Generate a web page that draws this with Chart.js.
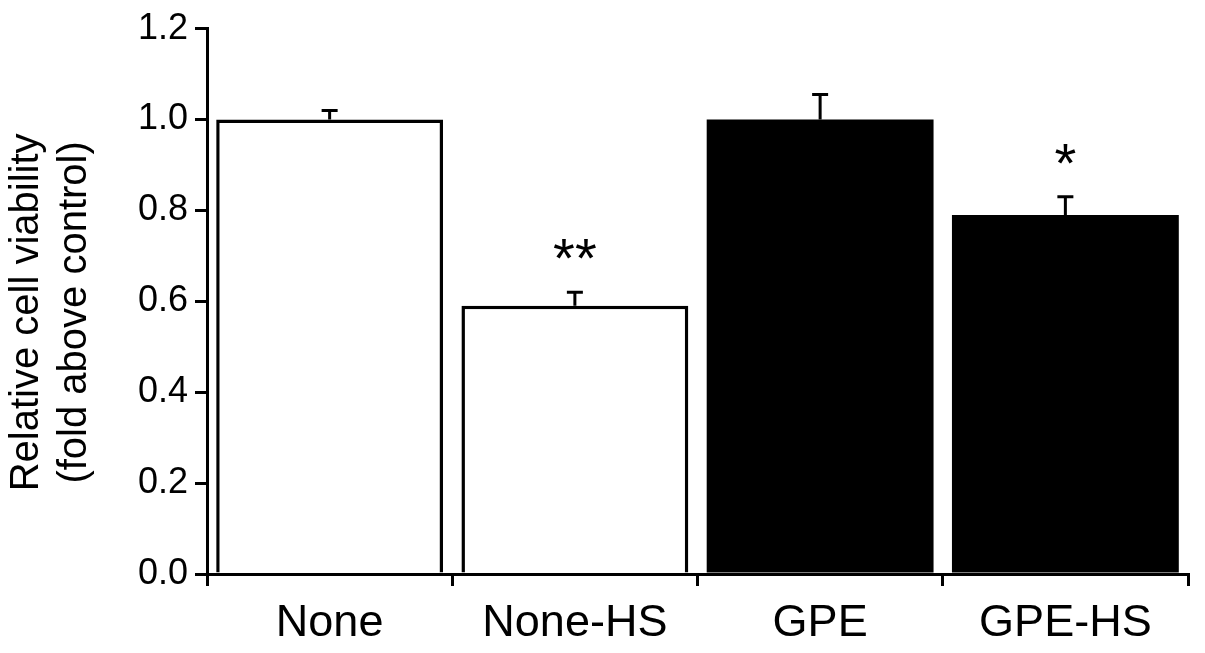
<!DOCTYPE html>
<html>
<head>
<meta charset="utf-8">
<script src="https://cdn.jsdelivr.net/npm/chart.js@4"></script>
<style>
  html, body { margin: 0; padding: 0; background: #fff; }
  #wrap { width: 1205px; height: 653px; position: relative; }
</style>
</head>
<body>
<div id="wrap"><canvas id="viabilityChart"></canvas></div>
<script>
// values
const categories = ['None', 'None-HS', 'GPE', 'GPE-HS'];
const viability = [1.0, 0.59, 1.0, 0.79];
const sem = [0.02, 0.03, 0.055, 0.04];
const significance = ['', '**', '', '*'];

const FONT = '"Liberation Sans", Arial, sans-serif';

// upward-only error bars + asterisks
const errorBars = {
  id: 'errorBars',
  afterDatasetsDraw(chart) {
    const ctx = chart.ctx;
    const meta = chart.getDatasetMeta(0);
    const y = chart.scales.y;
    ctx.save();
    ctx.strokeStyle = '#000';
    ctx.lineWidth = 3;
    meta.data.forEach((bar, i) => {
      const top = y.getPixelForValue(viability[i]);
      const tip = y.getPixelForValue(viability[i] + sem[i]);
      ctx.beginPath();
      ctx.moveTo(bar.x, top);
      ctx.lineTo(bar.x, tip);
      ctx.moveTo(bar.x - 8, tip);
      ctx.lineTo(bar.x + 8, tip);
      ctx.stroke();

      if (significance[i]) {
        ctx.font = '56px ' + FONT;
        ctx.fillStyle = '#000';
        ctx.textAlign = 'center';
        ctx.textBaseline = 'alphabetic';
        ctx.fillText(significance[i], bar.x, tip - 15);
      }
    });
    ctx.restore();
  }
};

new Chart(document.getElementById('viabilityChart'), {
  type: 'bar',
  data: {
    labels: categories,
    datasets: [{
      data: viability,
      backgroundColor: ['#ffffff', '#ffffff', '#000000', '#000000'],
      borderColor: '#000000',
      borderWidth: [3.5, 3.5, 0, 0],
      borderSkipped: 'bottom',
      barPercentage: 0.925,
      categoryPercentage: 1.0
    }]
  },
  options: {
    responsive: true,
    maintainAspectRatio: false,
    animation: false,
    layout: { padding: { top: 26, right: 17, left: 0, bottom: 0 } },
    plugins: {
      legend: { display: false },
      tooltip: { enabled: false }
    },
    scales: {
      x: {
        z: 1,
        grid: {
          display: true,
          drawOnChartArea: false,
          offset: true,
          tickLength: 12,
          lineWidth: 3,
          color: '#000'
        },
        border: { display: true, color: '#000', width: 3 },
        ticks: {
          color: '#000',
          padding: 11,
          font: { family: FONT, size: 45 }
        },
        afterFit(scale) { scale.height = 79; }
      },
      y: {
        z: 1,
        min: 0,
        max: 1.2,
        grid: {
          display: true,
          drawOnChartArea: false,
          tickLength: 12,
          lineWidth: 3,
          color: '#000'
        },
        border: { display: true, color: '#000', width: 3 },
        ticks: {
          stepSize: 0.2,
          color: '#000',
          padding: 7,
          font: { family: FONT, size: 36 },
          callback: (v) => v.toFixed(1)
        },
        title: {
          display: true,
          // trailing spaces nudge the rotated lines down a little
          text: ['Relative cell viability  ', '(fold above control)  '],
          color: '#000',
          font: { family: FONT, size: 40, lineHeight: 1.2 },
          padding: { top: 3, bottom: 0 }
        },
        afterFit(scale) { scale.width = 207; }
      }
    }
  },
  plugins: [errorBars]
});
</script>
</body>
</html>
